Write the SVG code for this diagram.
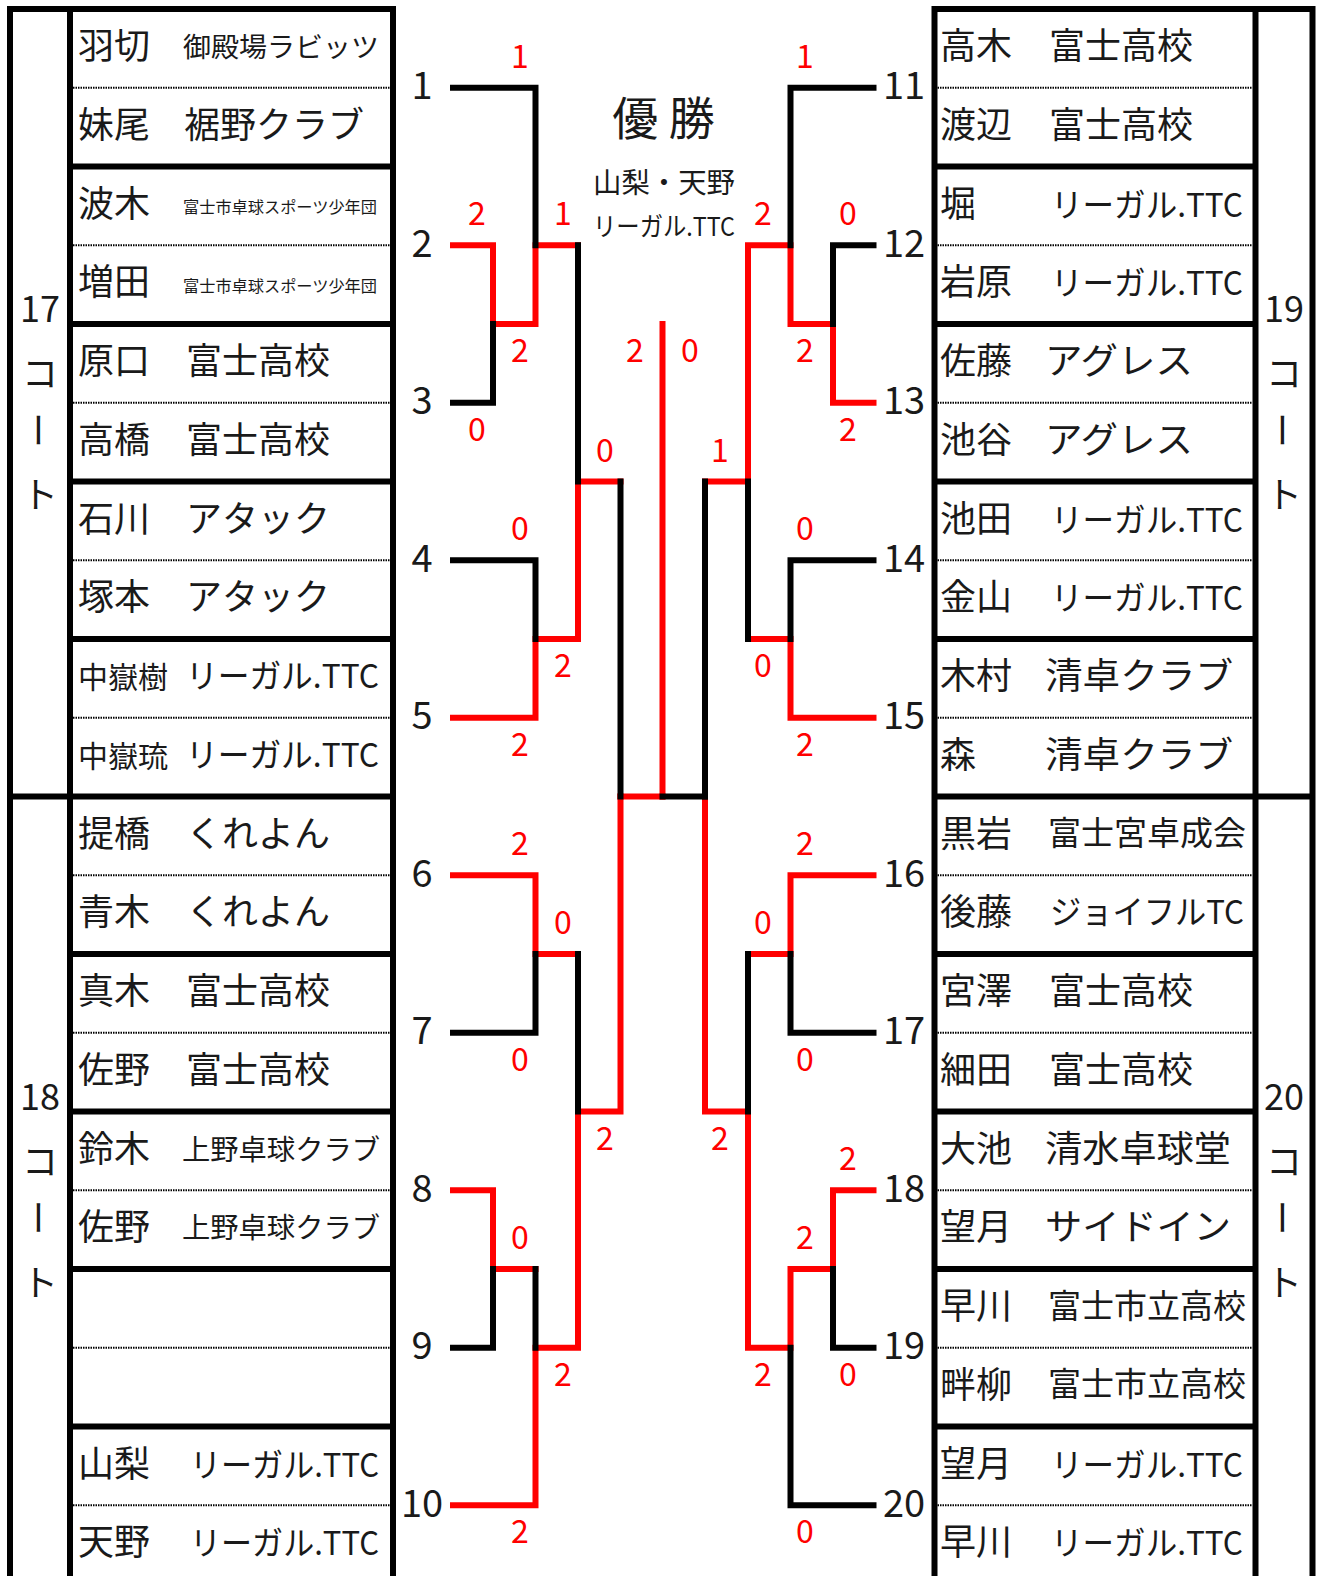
<svg xmlns="http://www.w3.org/2000/svg" width="1320" height="1576" viewBox="0 0 1320 1576">
<style>
text{font-family:"Noto Sans CJK JP","Noto Sans CJK SC",sans-serif;fill:#1a1a1a}
.nm{font-size:36px}
.num{font-size:38px;text-anchor:middle}
.sc{font-size:32px;text-anchor:middle;fill:#f00}
.ct{font-size:36px;text-anchor:middle;dominant-baseline:central}
.bx{stroke:#000;stroke-width:6;fill:none;stroke-linecap:square}
.dot{stroke:#000;stroke-width:2;stroke-dasharray:1.5 1;fill:none}
.k{stroke:#000;stroke-width:6;fill:none;stroke-linecap:square;stroke-linejoin:miter}
.r{stroke:#f00;stroke-width:6;fill:none;stroke-linecap:square;stroke-linejoin:miter}
</style>
<rect width="1320" height="1576" fill="#fff"/>

<g id="frame-left">
<path class="bx" d="M10 9H393M10 796.5H393M10 9V1584M70 9V1584M393 9V1584M70 166.5H393M70 324H393M70 481.5H393M70 639H393M70 954H393M70 1111.5H393M70 1269H393M70 1426.5H393"/>
<path class="dot" d="M73 87.75H390M73 245.25H390M73 402.75H390M73 560.25H390M73 717.75H390M73 875.25H390M73 1032.75H390M73 1190.25H390M73 1347.75H390M73 1505.25H390"/>
</g>
<g id="frame-right">
<path class="bx" d="M934.5 9H1312.5M934.5 796.5H1312.5M934.5 9V1584M1255.5 9V1584M1312.5 9V1584M934.5 166.5H1255.5M934.5 324H1255.5M934.5 481.5H1255.5M934.5 639H1255.5M934.5 954H1255.5M934.5 1111.5H1255.5M934.5 1269H1255.5M934.5 1426.5H1255.5"/>
<path class="dot" d="M937.5 87.75H1252.5M937.5 245.25H1252.5M937.5 402.75H1252.5M937.5 560.25H1252.5M937.5 717.75H1252.5M937.5 875.25H1252.5M937.5 1032.75H1252.5M937.5 1190.25H1252.5M937.5 1347.75H1252.5M937.5 1505.25H1252.5"/>
</g>

<g id="court17"><text class="ct" x="40" y="306">17</text><text class="ct" x="40" y="371">コ</text><text class="ct" x="40" y="430" transform="rotate(90 40 430)">ー</text><text class="ct" x="40" y="492">ト</text></g>
<g id="court18"><text class="ct" x="40" y="1093.5">18</text><text class="ct" x="40" y="1158.5">コ</text><text class="ct" x="40" y="1217.5" transform="rotate(90 40 1217.5)">ー</text><text class="ct" x="40" y="1279.5">ト</text></g>
<g id="court19"><text class="ct" x="1284" y="306">19</text><text class="ct" x="1284" y="371">コ</text><text class="ct" x="1284" y="430" transform="rotate(90 1284 430)">ー</text><text class="ct" x="1284" y="492">ト</text></g>
<g id="court20"><text class="ct" x="1284" y="1093.5">20</text><text class="ct" x="1284" y="1158.5">コ</text><text class="ct" x="1284" y="1217.5" transform="rotate(90 1284 1217.5)">ー</text><text class="ct" x="1284" y="1279.5">ト</text></g>

<g id="team1"><text class="nm" x="78" y="59">羽切</text><text x="183" y="57" font-size="27" textLength="196" lengthAdjust="spacingAndGlyphs">御殿場ラビッツ</text><text class="nm" x="78" y="137.75">妹尾</text><text class="nm" x="184" y="137.75">裾野クラブ</text></g>
<g id="team2"><text class="nm" x="78" y="216.5">波木</text><text x="183" y="213" font-size="16" fill="#333" textLength="194" lengthAdjust="spacingAndGlyphs">富士市卓球スポーツ少年団</text><text class="nm" x="78" y="295.25">増田</text><text x="183" y="292" font-size="16" fill="#333" textLength="194" lengthAdjust="spacingAndGlyphs">富士市卓球スポーツ少年団</text></g>
<g id="team3"><text class="nm" x="78" y="374">原口</text><text class="nm" x="186" y="374">富士高校</text><text class="nm" x="78" y="452.75">高橋</text><text class="nm" x="186" y="452.75">富士高校</text></g>
<g id="team4"><text class="nm" x="78" y="531.5">石川</text><text class="nm" x="186" y="531.5">アタック</text><text class="nm" x="78" y="610.25">塚本</text><text class="nm" x="186" y="610.25">アタック</text></g>
<g id="team5"><text x="78" y="688" font-size="30">中嶽樹</text><text x="186" y="688" font-size="33" textLength="193" lengthAdjust="spacingAndGlyphs">リーガル.TTC</text><text x="78" y="766.75" font-size="30">中嶽琉</text><text x="186" y="766.75" font-size="33" textLength="193" lengthAdjust="spacingAndGlyphs">リーガル.TTC</text></g>
<g id="team6"><text class="nm" x="78" y="846.5">提橋</text><text class="nm" x="186" y="846.5">くれよん</text><text class="nm" x="78" y="925.25">青木</text><text class="nm" x="186" y="925.25">くれよん</text></g>
<g id="team7"><text class="nm" x="78" y="1004">真木</text><text class="nm" x="186" y="1004">富士高校</text><text class="nm" x="78" y="1082.75">佐野</text><text class="nm" x="186" y="1082.75">富士高校</text></g>
<g id="team8"><text class="nm" x="78" y="1161.5">鈴木</text><text x="182" y="1159.5" font-size="28" textLength="198" lengthAdjust="spacingAndGlyphs">上野卓球クラブ</text><text class="nm" x="78" y="1240.25">佐野</text><text x="182" y="1238.25" font-size="28" textLength="198" lengthAdjust="spacingAndGlyphs">上野卓球クラブ</text></g>
<g id="team9"></g>
<g id="team10"><text class="nm" x="78" y="1476.5">山梨</text><text x="190" y="1476.5" font-size="33" textLength="189" lengthAdjust="spacingAndGlyphs">リーガル.TTC</text><text class="nm" x="78" y="1555.25">天野</text><text x="190" y="1555.25" font-size="33" textLength="189" lengthAdjust="spacingAndGlyphs">リーガル.TTC</text></g>

<g id="team11"><text class="nm" x="940" y="59">高木</text><text class="nm" x="1049" y="59">富士高校</text><text class="nm" x="940" y="137.75">渡辺</text><text class="nm" x="1049" y="137.75">富士高校</text></g>
<g id="team12"><text class="nm" x="940" y="216.5">堀</text><text x="1051" y="216.5" font-size="33" textLength="192" lengthAdjust="spacingAndGlyphs">リーガル.TTC</text><text class="nm" x="940" y="295.25">岩原</text><text x="1051" y="295.25" font-size="33" textLength="192" lengthAdjust="spacingAndGlyphs">リーガル.TTC</text></g>
<g id="team13"><text class="nm" x="940" y="374">佐藤</text><text class="nm" x="1045" y="374" textLength="148" lengthAdjust="spacingAndGlyphs">アグレス</text><text class="nm" x="940" y="452.75">池谷</text><text class="nm" x="1045" y="452.75" textLength="148" lengthAdjust="spacingAndGlyphs">アグレス</text></g>
<g id="team14"><text class="nm" x="940" y="531.5">池田</text><text x="1051" y="531.5" font-size="33" textLength="192" lengthAdjust="spacingAndGlyphs">リーガル.TTC</text><text class="nm" x="940" y="610.25">金山</text><text x="1051" y="610.25" font-size="33" textLength="192" lengthAdjust="spacingAndGlyphs">リーガル.TTC</text></g>
<g id="team15"><text class="nm" x="940" y="689">木村</text><text class="nm" x="1045" y="689" textLength="188" lengthAdjust="spacingAndGlyphs">清卓クラブ</text><text class="nm" x="940" y="767.75">森</text><text class="nm" x="1045" y="767.75" textLength="188" lengthAdjust="spacingAndGlyphs">清卓クラブ</text></g>
<g id="team16"><text class="nm" x="940" y="846.5">黒岩</text><text x="1048" y="845" font-size="33" textLength="198" lengthAdjust="spacingAndGlyphs">富士宮卓成会</text><text class="nm" x="940" y="925.25">後藤</text><text x="1050" y="923.75" font-size="33" textLength="194" lengthAdjust="spacingAndGlyphs">ジョイフルTC</text></g>
<g id="team17"><text class="nm" x="940" y="1004">宮澤</text><text class="nm" x="1049" y="1004">富士高校</text><text class="nm" x="940" y="1082.75">細田</text><text class="nm" x="1049" y="1082.75">富士高校</text></g>
<g id="team18"><text class="nm" x="940" y="1161.5">大池</text><text class="nm" x="1045" y="1161.5" textLength="186" lengthAdjust="spacingAndGlyphs">清水卓球堂</text><text class="nm" x="940" y="1240.25">望月</text><text class="nm" x="1045" y="1240.25" textLength="186" lengthAdjust="spacingAndGlyphs">サイドイン</text></g>
<g id="team19"><text class="nm" x="940" y="1319">早川</text><text x="1048" y="1317.5" font-size="33" textLength="198" lengthAdjust="spacingAndGlyphs">富士市立高校</text><text class="nm" x="940" y="1397.75">畔柳</text><text x="1048" y="1396.25" font-size="33" textLength="198" lengthAdjust="spacingAndGlyphs">富士市立高校</text></g>
<g id="team20"><text class="nm" x="940" y="1476.5">望月</text><text x="1051" y="1476.5" font-size="33" textLength="192" lengthAdjust="spacingAndGlyphs">リーガル.TTC</text><text class="nm" x="940" y="1555.25">早川</text><text x="1051" y="1555.25" font-size="33" textLength="192" lengthAdjust="spacingAndGlyphs">リーガル.TTC</text></g>

<g id="champion">
<text x="663.5" y="135" font-size="46" text-anchor="middle">優 勝</text>
<text x="664" y="193" font-size="28" fill="#333" text-anchor="middle" textLength="142" lengthAdjust="spacingAndGlyphs">山梨・天野</text>
<text x="664" y="236" font-size="26" fill="#333" text-anchor="middle" textLength="142" lengthAdjust="spacingAndGlyphs">リーガル.TTC</text>
</g>

<g id="seeds">
<text class="num" x="422" y="99.25">1</text><text class="num" x="422" y="256.75">2</text><text class="num" x="422" y="414.25">3</text><text class="num" x="422" y="571.75">4</text><text class="num" x="422" y="729.25">5</text><text class="num" x="422" y="886.75">6</text><text class="num" x="422" y="1044.25">7</text><text class="num" x="422" y="1201.75">8</text><text class="num" x="422" y="1359.25">9</text><text class="num" x="422" y="1516.75">10</text>
<text class="num" x="904" y="99.25">11</text><text class="num" x="904" y="256.75">12</text><text class="num" x="904" y="414.25">13</text><text class="num" x="904" y="571.75">14</text><text class="num" x="904" y="729.25">15</text><text class="num" x="904" y="886.75">16</text><text class="num" x="904" y="1044.25">17</text><text class="num" x="904" y="1201.75">18</text><text class="num" x="904" y="1359.25">19</text><text class="num" x="904" y="1516.75">20</text>
</g>

<g id="connectors">
<path class="r" d="M453 245.25H493V324H535.5V245.25H578"/>
<path class="r" d="M453 717.75H535.5V639H578V481.5H620.5"/>
<path class="r" d="M620.5 796.5H662.5"/>
<path class="r" d="M620.5 796.5V1111.5H578"/>
<path class="r" d="M453 875.25H535.5V954H578"/>
<path class="r" d="M578 1111.5V1347.75H535.5V1505.25H453"/>
<path class="r" d="M453 1190.25H493V1269H535.5"/>
<path class="r" d="M662.5 324V796.5" stroke-linecap="butt"/>
<path class="r" d="M873.5 402.75H833V324H790.5V245.25H748V481.5H705"/>
<path class="r" d="M873.5 717.75H790.5V639H748"/>
<path class="r" d="M873.5 875.25H790.5V954H748"/>
<path class="r" d="M705 796.5V1111.5H748V1347.75H790.5V1269H833V1190.25H873.5"/>
<path class="k" d="M453 87.75H535.5V245.25"/>
<path class="k" d="M453 402.75H493V324"/>
<path class="k" d="M578 245.25V481.5"/>
<path class="k" d="M453 560.25H535.5V639"/>
<path class="k" d="M620.5 481.5V796.5"/>
<path class="k" d="M453 1032.75H535.5V954"/>
<path class="k" d="M578 954V1111.5"/>
<path class="k" d="M453 1347.75H493V1269"/>
<path class="k" d="M535.5 1269V1347.75"/>
<path class="k" d="M662.5 796.5H705"/>
<path class="k" d="M873.5 87.75H790.5V245.25"/>
<path class="k" d="M873.5 245.25H833V324"/>
<path class="k" d="M748 481.5V639"/>
<path class="k" d="M873.5 560.25H790.5V639"/>
<path class="k" d="M705 481.5V796.5"/>
<path class="k" d="M873.5 1032.75H790.5V954"/>
<path class="k" d="M748 954V1111.5"/>
<path class="k" d="M873.5 1347.75H833V1269"/>
<path class="k" d="M790.5 1347.75V1505.25H873.5"/>
</g>

<g id="scores">
<text class="sc" x="520" y="67.75">1</text><text class="sc" x="477" y="225.25">2</text><text class="sc" x="563" y="225.25">1</text><text class="sc" x="520" y="362">2</text><text class="sc" x="477" y="440.75">0</text><text class="sc" x="605" y="461.5">0</text><text class="sc" x="635" y="362">2</text><text class="sc" x="690" y="362">0</text><text class="sc" x="520" y="540.25">0</text><text class="sc" x="563" y="677">2</text><text class="sc" x="520" y="755.75">2</text><text class="sc" x="520" y="855.25">2</text><text class="sc" x="563" y="934">0</text><text class="sc" x="520" y="1070.75">0</text><text class="sc" x="605" y="1149.5">2</text><text class="sc" x="520" y="1249">0</text><text class="sc" x="563" y="1385.75">2</text><text class="sc" x="520" y="1543.25">2</text>
<text class="sc" x="805" y="67.75">1</text><text class="sc" x="763" y="225.25">2</text><text class="sc" x="848" y="225.25">0</text><text class="sc" x="805" y="362">2</text><text class="sc" x="848" y="440.75">2</text><text class="sc" x="720" y="461.5">1</text><text class="sc" x="805" y="540.25">0</text><text class="sc" x="763" y="677">0</text><text class="sc" x="805" y="755.75">2</text><text class="sc" x="805" y="855.25">2</text><text class="sc" x="763" y="934">0</text><text class="sc" x="805" y="1070.75">0</text><text class="sc" x="720" y="1149.5">2</text><text class="sc" x="848" y="1170.25">2</text><text class="sc" x="805" y="1249">2</text><text class="sc" x="763" y="1385.75">2</text><text class="sc" x="848" y="1385.75">0</text><text class="sc" x="805" y="1543.25">0</text>
</g>
</svg>
